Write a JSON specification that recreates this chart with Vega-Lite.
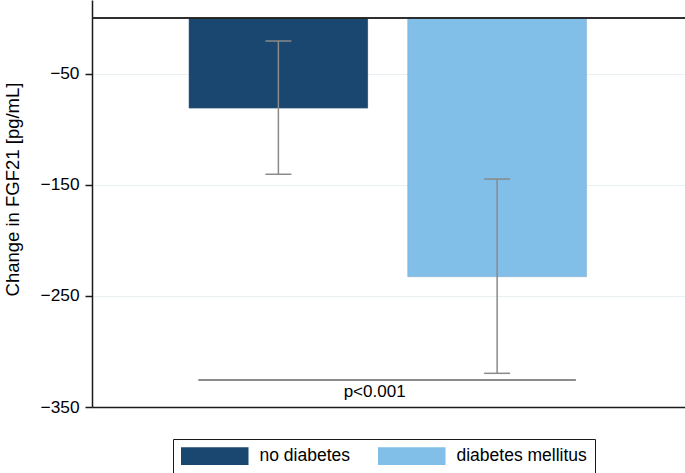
{
  "$schema": "https://vega.github.io/schema/vega-lite/v6.json",
  "width": 593,
  "height": 407,
  "autosize": "none",
  "padding": {"left": 92, "top": 0, "right": 0, "bottom": 66},
  "background": "white",
  "datasets": {
    "bars": [
      {"group": "no diabetes", "x": 1, "mean": -81.2, "lo": -140.6, "hi": -20.7},
      {"group": "diabetes mellitus", "x": 2, "mean": -232.8, "lo": -319.7, "hi": -144.9}
    ],
    "sig": [
      {"x": 0.634, "x2": 2.36, "y": -325.7, "tx": 1.44, "ty": -336.2, "label": "p<0.001"}
    ]
  },
  "layer": [
    {
      "data": {"name": "bars"},
      "mark": {"type": "bar", "size": 179, "stroke": "#5f7f9f", "strokeWidth": 0.5, "strokeOpacity": 0.5},
      "encoding": {
        "x": {
          "field": "x", "type": "quantitative",
          "scale": {"domain": [0.1708, 2.836], "nice": false, "zero": false},
          "axis": {"orient": "bottom", "labels": false, "ticks": false, "grid": false, "title": null, "domain": true, "domainColor": "#1a1a1a", "domainWidth": 1.5}
        },
        "y": {
          "field": "mean", "type": "quantitative", "stack": null,
          "scale": {"domain": [-350, 16.2], "nice": false, "zero": false},
          "axis": {
            "values": [-50, -150, -250, -350],
            "title": "Change in FGF21 [pg/mL]",
            "titleFontSize": 18.5, "titleFontWeight": "normal", "titleColor": "black", "titlePadding": 18,
            "titleY": 189,
            "labelFontSize": 17.3, "labelColor": "black", "labelPadding": 6,
            "tickColor": "#1a1a1a", "tickSize": 7, "tickWidth": 1.5,
            "domainColor": "#1a1a1a", "domainWidth": 1.5,
            "grid": true, "gridColor": "#e9f0f2", "gridWidth": 1
          }
        },
        "y2": {"datum": 0},
        "color": {
          "field": "group", "type": "nominal",
          "scale": {"domain": ["no diabetes", "diabetes mellitus"], "range": ["#1a476f", "#81bee8"]},
          "legend": {
            "orient": "none", "legendX": 81, "legendY": 439,
            "direction": "horizontal", "title": null,
            "symbolType": "M-3.75,-0.98H3.75V0.98H-3.75Z", "symbolSize": 324,
            "symbolOffset": 24.75,
            "symbolStrokeWidth": 0, "symbolOpacity": 1,
            "labelFontSize": 17.5, "labelColor": "black", "labelOffset": 35.75,
            "columnPadding": 28, "padding": 8,
            "strokeColor": "#1a1a1a"
          }
        }
      }
    },
    {
      "data": {"name": "bars"},
      "mark": {"type": "rule", "color": "#222222", "strokeWidth": 1.5},
      "encoding": {"y": {"datum": 0}}
    },
    {
      "data": {"name": "bars"},
      "mark": {"type": "rule", "color": "#8a8a8a", "strokeWidth": 1.5},
      "encoding": {
        "x": {"field": "x", "type": "quantitative"},
        "y": {"field": "lo", "type": "quantitative"},
        "y2": {"field": "hi"}
      }
    },
    {
      "data": {"name": "bars"},
      "mark": {"type": "tick", "orient": "horizontal", "color": "#8a8a8a", "size": 26, "thickness": 1.5, "opacity": 1},
      "encoding": {
        "x": {"field": "x", "type": "quantitative"},
        "y": {"field": "lo", "type": "quantitative"}
      }
    },
    {
      "data": {"name": "bars"},
      "mark": {"type": "tick", "orient": "horizontal", "color": "#8a8a8a", "size": 26, "thickness": 1.5, "opacity": 1},
      "encoding": {
        "x": {"field": "x", "type": "quantitative"},
        "y": {"field": "hi", "type": "quantitative"}
      }
    },
    {
      "data": {"name": "sig"},
      "mark": {"type": "rule", "color": "#1a1a1a", "strokeWidth": 1.2},
      "encoding": {
        "x": {"field": "x", "type": "quantitative"},
        "x2": {"field": "x2"},
        "y": {"field": "y", "type": "quantitative"}
      }
    },
    {
      "data": {"name": "sig"},
      "mark": {"type": "text", "fontSize": 17, "color": "black", "baseline": "middle", "align": "center"},
      "encoding": {
        "x": {"field": "tx", "type": "quantitative"},
        "y": {"field": "ty", "type": "quantitative"},
        "text": {"field": "label"}
      }
    }
  ],
  "config": {
    "view": {"stroke": null},
    "font": "Liberation Sans"
  }
}
